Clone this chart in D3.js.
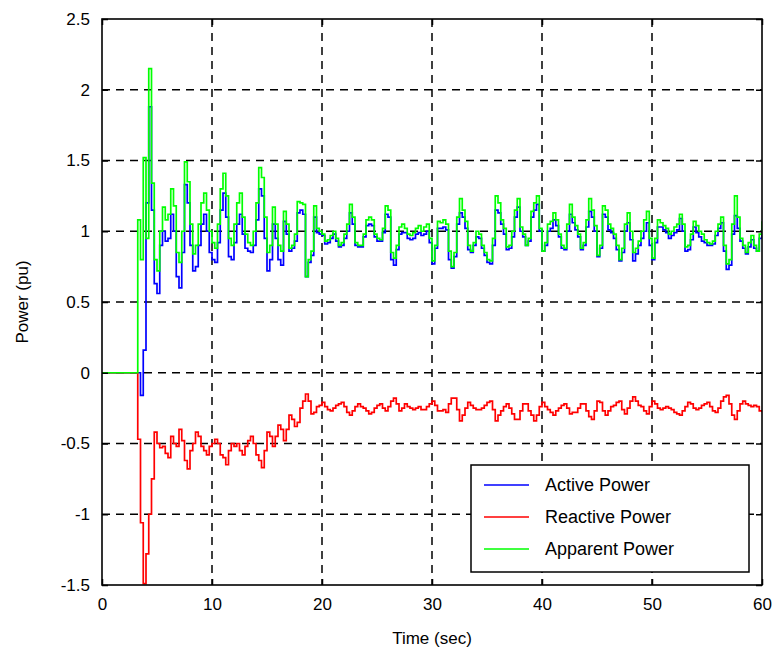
<!DOCTYPE html>
<html>
<head>
<meta charset="utf-8">
<script src="https://cdn.jsdelivr.net/npm/d3@7"></script>
<style>
  body { margin: 0; background: #fff; }
  text { font-family: "Liberation Sans", Arial, sans-serif; fill: #000; }
</style>
</head>
<body>
<div id="chart"></div>
<script>
// samples every 0.25 s, t = 0 .. 60
const dt = 0.25;
const activePower = [
  0,0,0,0,0,0,0,0,0,0,0,0,0,
  0,-0.16,0.16,1.2,1.88,1.15,0.63,0.56,0.9,1.0,0.93,0.95,1.12,1.0,0.68,0.6,0.85,1.33,1.2,0.9,0.72,0.75,
  0.9,1.05,1.12,1.0,0.85,0.8,0.78,0.92,1.15,1.27,1.1,0.82,0.8,0.92,1.05,1.12,0.98,0.88,0.86,0.85,
  0.9,1.08,1.3,1.25,0.95,0.72,0.8,1.05,0.95,0.8,0.76,1.07,0.98,0.86,0.88,0.93,1.13,1.15,1.12,0.68,
  0.78,0.83,1.1,0.99,0.98,0.97,0.91,0.92,0.95,0.98,0.93,0.89,0.9,0.95,1.0,1.13,1.05,0.9,0.89,0.89,
  0.96,1.04,1.05,1.04,0.96,0.93,0.93,0.99,1.12,1.1,0.8,0.76,0.87,0.98,0.99,0.99,0.95,0.94,0.95,0.98,
  0.99,0.97,0.98,1.0,0.92,0.77,0.88,1.02,1.02,1.03,1.01,0.8,0.74,0.82,1.05,1.13,1.1,1.02,0.87,0.85,
  0.9,0.96,0.95,0.88,0.83,0.78,0.77,0.9,1.15,1.13,1.05,0.98,0.87,0.88,0.96,1.1,1.17,1.0,0.96,0.9,
  0.93,1.1,1.15,1.19,1.0,0.86,0.9,1.0,1.02,1.08,1.04,0.96,0.88,0.87,1.0,1.12,1.06,1.01,0.96,0.87,
  0.9,1.03,1.14,1.1,1.0,0.82,0.88,1.12,1.1,1.01,0.99,0.95,0.87,0.79,0.85,1.0,1.06,0.94,0.79,0.84,
  0.9,0.95,1.0,1.06,0.9,0.8,0.92,1.03,1.03,1.01,0.99,0.95,0.97,0.99,1.01,1.09,1.0,0.86,0.87,0.94,
  1.03,0.99,0.96,0.93,0.92,0.9,0.9,0.91,0.97,1.02,1.06,0.86,0.73,0.76,0.98,1.11,1.02,0.93,0.88,0.84,
  0.89,0.94,0.88,0.86,0.95,1.02
];
const reactivePower = [
  0,0,0,0,0,0,0,0,0,0,0,0,0,
  -0.47,-1.06,-1.49,-1.28,-1.0,-0.75,-0.42,-0.5,-0.53,-0.52,-0.57,-0.6,-0.45,-0.5,-0.52,-0.4,-0.48,-0.62,-0.68,-0.55,-0.5,-0.42,
  -0.45,-0.52,-0.55,-0.58,-0.52,-0.5,-0.47,-0.5,-0.58,-0.6,-0.65,-0.55,-0.5,-0.52,-0.5,-0.55,-0.58,-0.52,-0.48,-0.45,
  -0.5,-0.58,-0.62,-0.67,-0.55,-0.42,-0.45,-0.52,-0.45,-0.37,-0.4,-0.48,-0.4,-0.3,-0.33,-0.38,-0.35,-0.25,-0.2,-0.15,
  -0.2,-0.29,-0.28,-0.24,-0.23,-0.21,-0.24,-0.26,-0.27,-0.25,-0.23,-0.22,-0.21,-0.24,-0.28,-0.3,-0.27,-0.24,-0.22,-0.24,
  -0.25,-0.27,-0.29,-0.28,-0.25,-0.23,-0.22,-0.25,-0.27,-0.24,-0.2,-0.18,-0.22,-0.27,-0.25,-0.22,-0.24,-0.25,-0.26,-0.25,
  -0.24,-0.26,-0.26,-0.24,-0.22,-0.2,-0.23,-0.27,-0.27,-0.26,-0.28,-0.22,-0.18,-0.18,-0.26,-0.34,-0.3,-0.25,-0.21,-0.23,
  -0.25,-0.26,-0.26,-0.25,-0.23,-0.21,-0.2,-0.26,-0.34,-0.3,-0.27,-0.24,-0.22,-0.25,-0.29,-0.33,-0.33,-0.27,-0.22,-0.22,
  -0.27,-0.3,-0.34,-0.3,-0.24,-0.21,-0.24,-0.26,-0.28,-0.3,-0.27,-0.25,-0.23,-0.22,-0.25,-0.29,-0.28,-0.28,-0.25,-0.22,
  -0.22,-0.27,-0.31,-0.33,-0.27,-0.2,-0.21,-0.27,-0.3,-0.27,-0.24,-0.23,-0.21,-0.2,-0.26,-0.29,-0.25,-0.2,-0.17,-0.2,
  -0.23,-0.24,-0.27,-0.29,-0.24,-0.2,-0.22,-0.25,-0.26,-0.25,-0.24,-0.25,-0.26,-0.28,-0.29,-0.3,-0.27,-0.24,-0.21,-0.22,
  -0.25,-0.26,-0.25,-0.23,-0.22,-0.21,-0.24,-0.27,-0.28,-0.25,-0.2,-0.17,-0.16,-0.22,-0.3,-0.33,-0.27,-0.22,-0.2,-0.22,
  -0.23,-0.24,-0.23,-0.24,-0.27,-0.28
];
const apparentPower = [
  0,0,0,0,0,0,0,0,0,0,0,0,0,
  1.08,0.8,1.52,0.95,2.15,1.34,0.8,0.72,1.0,1.17,1.08,1.12,1.3,1.18,0.85,0.78,1.0,1.49,1.35,1.05,0.84,0.9,
  1.05,1.2,1.27,1.15,1.0,0.92,0.88,1.05,1.3,1.41,1.25,0.95,0.9,1.05,1.2,1.27,1.1,0.98,0.92,0.9,
  1.0,1.2,1.45,1.38,1.1,0.85,0.9,1.17,1.05,0.9,0.86,1.14,1.05,0.88,0.9,0.98,1.21,1.2,1.19,0.68,
  0.8,0.86,1.18,1.02,1.0,0.98,0.93,0.94,0.97,1.0,0.95,0.9,0.92,0.98,1.05,1.19,1.1,0.92,0.9,0.9,
  0.98,1.08,1.1,1.08,0.98,0.95,0.94,1.02,1.18,1.15,0.85,0.81,0.9,1.03,1.05,1.02,0.98,0.97,0.99,1.02,
  1.04,1.0,1.03,1.05,0.95,0.79,0.9,1.07,1.06,1.08,1.05,0.86,0.75,0.85,1.1,1.23,1.15,1.07,0.9,0.86,
  0.92,1.0,0.98,0.9,0.85,0.8,0.79,0.95,1.25,1.2,1.08,1.02,0.89,0.9,1.0,1.15,1.23,1.03,0.98,0.9,
  0.95,1.14,1.2,1.25,1.02,0.86,0.92,1.05,1.07,1.13,1.08,0.98,0.9,0.88,1.05,1.19,1.1,1.04,0.98,0.88,
  0.92,1.08,1.23,1.15,1.04,0.83,0.9,1.18,1.15,1.05,1.02,0.98,0.9,0.8,0.88,1.05,1.13,1.0,0.85,0.88,
  0.93,1.0,1.08,1.14,0.95,0.81,0.95,1.08,1.06,1.04,1.02,0.98,1.0,1.03,1.05,1.12,1.05,0.89,0.9,0.98,
  1.07,1.04,1.0,0.98,0.94,0.92,0.91,0.93,1.0,1.05,1.1,0.9,0.77,0.8,1.05,1.25,1.1,0.95,0.9,0.85,
  0.92,0.97,0.9,0.86,0.98,1.07
];
const seriesNames = ["Active Power", "Reactive Power", "Apparent Power"];
const seriesColors = ["#0000ff", "#ff0000", "#00ff00"];
const xTicks = [0, 10, 20, 30, 40, 50, 60];
const yTicks = [-1.5, -1, -0.5, 0, 0.5, 1, 1.5, 2, 2.5];

const W = 776, H = 659;
const M = { top: 19, right: 14, bottom: 74, left: 102 };
const iw = W - M.left - M.right, ih = H - M.top - M.bottom;

const svg = d3.select('#chart').append('svg')
  .attr('width', W).attr('height', H);
const g = svg.append('g').attr('transform', `translate(${M.left},${M.top})`);

const x = d3.scaleLinear().domain([0, 60]).range([0, iw]);
const y = d3.scaleLinear().domain([-1.5, 2.5]).range([ih, 0]);

g.append('rect').attr('width', iw).attr('height', ih).attr('fill', '#fff');

// dashed grid
g.selectAll('.gx').data(xTicks.slice(1, -1)).enter().append('line')
  .attr('x1', d => x(d)).attr('x2', d => x(d)).attr('y1', 0).attr('y2', ih)
  .attr('stroke', '#000').attr('stroke-width', 1.5).attr('stroke-dasharray', '8,6');
g.selectAll('.gy').data(yTicks.slice(1, -1)).enter().append('line')
  .attr('x1', 0).attr('x2', iw).attr('y1', d => y(d)).attr('y2', d => y(d))
  .attr('stroke', '#000').attr('stroke-width', 1.5).attr('stroke-dasharray', '8,6');

svg.append('clipPath').attr('id', 'clip').append('rect')
  .attr('width', iw).attr('height', ih);

const line = d3.line()
  .x((d, i) => x(i * dt))
  .y(d => y(d))
  .curve(d3.curveStepAfter);

const data = [activePower, reactivePower, apparentPower];
data.forEach((s, k) => {
  g.append('path')
    .attr('clip-path', 'url(#clip)')
    .attr('d', line(s))
    .attr('fill', 'none')
    .attr('stroke', seriesColors[k])
    .attr('stroke-width', 1.7);
});

// inward ticks on all sides
const tl = 6;
const xb = d3.axisBottom(x).tickValues(xTicks).tickSize(-tl).tickFormat(d3.format('d')).tickPadding(13);
const xt = d3.axisTop(x).tickValues(xTicks).tickSize(-tl).tickFormat('');
const yl = d3.axisLeft(y).tickValues(yTicks).tickSize(-tl).tickFormat(d => String(d)).tickPadding(12);
const yr = d3.axisRight(y).tickValues(yTicks).tickSize(-tl).tickFormat('');

[[xb, `translate(0,${ih})`], [xt, 'translate(0,0)'], [yl, 'translate(0,0)'], [yr, `translate(${iw},0)`]]
  .forEach(([ax, tr]) => {
    const a = g.append('g').attr('transform', tr).call(ax);
    a.select('.domain').remove();
    a.selectAll('line').attr('stroke', '#000').attr('stroke-width', 1.5);
    a.selectAll('text').attr('font-size', 17).attr('font-family', '"Liberation Sans", Arial, sans-serif').attr('fill', '#000');
  });

g.append('rect').attr('width', iw).attr('height', ih)
  .attr('fill', 'none').attr('stroke', '#000').attr('stroke-width', 1.6);

// axis titles
svg.append('text').attr('x', M.left + iw / 2).attr('y', 644)
  .attr('text-anchor', 'middle').attr('font-size', 17).text('Time (sec)');
svg.append('text').attr('transform', `translate(28,${M.top + ih / 2}) rotate(-90)`)
  .attr('text-anchor', 'middle').attr('font-size', 17).text('Power (pu)');

// legend
const lg = svg.append('g').attr('transform', 'translate(471,465)');
lg.append('rect').attr('width', 278).attr('height', 107)
  .attr('fill', '#fff').attr('stroke', '#000').attr('stroke-width', 1.5);
seriesNames.forEach((name, k) => {
  const yy = 20 + k * 32;
  lg.append('line').attr('x1', 13).attr('x2', 58).attr('y1', yy).attr('y2', yy)
    .attr('stroke', seriesColors[k]).attr('stroke-width', 1.7);
  lg.append('text').attr('x', 74).attr('y', yy + 6).attr('font-size', 18).text(name);
});
</script>
</body>
</html>
